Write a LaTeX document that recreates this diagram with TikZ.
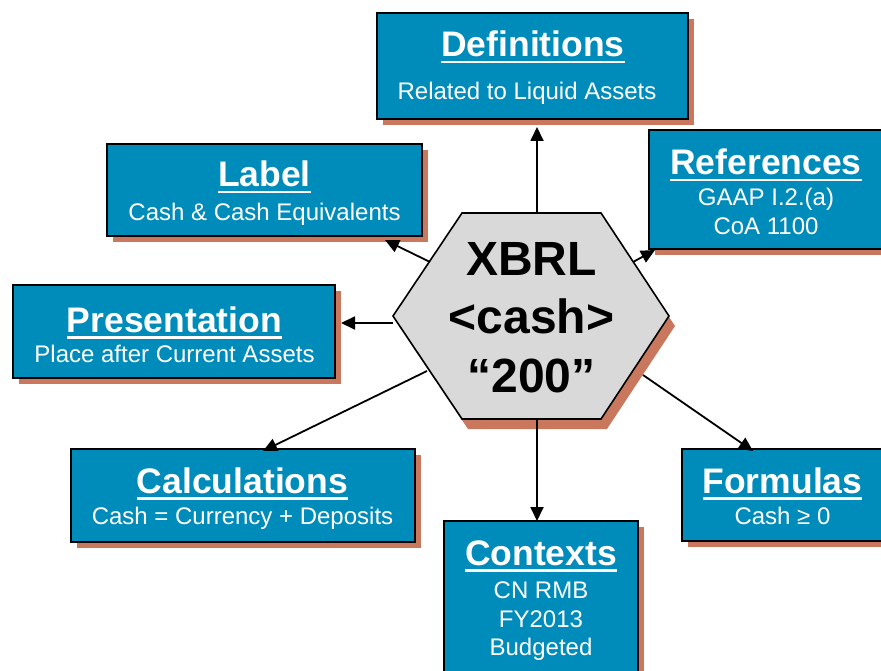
\documentclass[tikz,border=0pt]{standalone}
\usepackage{fontspec}
\setmainfont{Liberation Sans}
\usetikzlibrary{arrows.meta,shadows}
\definecolor{boxblue}{RGB}{0,140,186}
\definecolor{shadowred}{RGB}{201,120,94}
\definecolor{hexgray}{RGB}{217,217,217}
% underline drawn as a solid bar under the title
\newcommand\ulbar[1]{\setbox0\hbox{#1}\rlap{\rule[-6.5pt]{\wd0}{2.8pt}}\box0}
\tikzset{
  infobox/.style={draw=black, line width=1.6pt, fill=boxblue, inner sep=0pt,
    general shadow={fill=shadowred, shadow xshift=6pt, shadow yshift=-6pt}},
  ttl/.style={anchor=base, text=white, inner sep=0pt,
    font=\fontsize{35.5}{40}\selectfont\bfseries},
  subtxt/.style={anchor=base, text=white, inner sep=0pt,
    font=\fontsize{24}{28}\selectfont},
  hextxt/.style={anchor=base, text=black, inner sep=0pt,
    font=\fontsize{48}{56}\selectfont\bfseries},
  arr/.style={line width=1.8pt, -{Triangle[length=14pt,width=13pt]}},
}
\begin{document}
\begin{tikzpicture}[x=1pt,y=-1pt]
\useasboundingbox (0,0) rectangle (881,671);
\clip (0,0) rectangle (881,671);

% --- boxes ---
\node[infobox, minimum width=311pt, minimum height=106pt] (defs) at (532.5,66) {};
\node[ttl] (defsT) at (533,57) {\ulbar{Definitions}};
\node[subtxt] (defsS) at (527,100) {Related to Liquid Assets};

\node[infobox, minimum width=315pt, minimum height=92pt] (lab) at (264.5,190) {};
\node[ttl] (labT) at (264.5,187) {\ulbar{Label}};
\node[subtxt] (labS) at (264.5,221) {Cash \& Cash Equivalents};

\node[infobox, minimum width=233pt, minimum height=119pt] (refs) at (765.5,189.5) {};
\node[ttl] (refsT) at (766,175) {\ulbar{References}};
\node[subtxt] (refsS) at (766,206) {GAAP I.2.(a)};
\node[subtxt] (refsU) at (766,235) {CoA 1100};

\node[infobox, minimum width=322pt, minimum height=93pt] (pres) at (174,331.5) {};
\node[ttl] (presT) at (174.5,332) {\ulbar{Presentation}};
\node[subtxt] (presS) at (174.5,362) {Place after Current Assets};

\node[infobox, minimum width=344pt, minimum height=93pt] (calc) at (243,495.5) {};
\node[ttl] (calcT) at (242.5,493) {\ulbar{Calculations}};
\node[subtxt] (calcS) at (242.5,524) {Cash = Currency + Deposits};

\node[infobox, minimum width=200pt, minimum height=92pt] (form) at (782,495) {};
\node[ttl] (formT) at (782.5,493) {\ulbar{Formulas}};
\node[subtxt] (formS) at (782.5,524) {Cash ≥ 0};

\node[infobox, minimum width=194pt, minimum height=169pt] (ctx) at (541,605.5) {};
\node[ttl] (ctxT) at (541,565) {\ulbar{Contexts}};
\node[subtxt] (ctxS) at (541,598) {CN RMB};
\node[subtxt] (ctxU) at (541,627) {FY2013};
\node[subtxt] (ctxV) at (541,655) {Budgeted};

% --- central hexagon with its drop shadow ---
\fill[shadowred, shift={(6,10)}] (462,213) -- (601,213) -- (669,316) -- (601,419) -- (462,419) -- (393,316) -- cycle;
\draw[fill=hexgray, line width=1.6pt, line join=miter]
  (462,213) -- (601,213) -- (669,316) -- (601,419) -- (462,419) -- (393,316) -- cycle;
\node[hextxt] (hexA) at (531.5,276) {XBRL};
\node[hextxt] (hexB) at (531.5,333) {<cash>};
\node[hextxt] (hexC) at (531.5,392) {“200”};

% --- connector end points ---
\coordinate (sDef) at (537,213);
\coordinate (sLab) at (430,262);
\coordinate (sRef) at (633,262);
\coordinate (sPre) at (393,323);
\coordinate (sCal) at (427,371);
\coordinate (sCtx) at (537,419);
\coordinate (sFor) at (643,375);

\coordinate (tDef) at (537,127);
\coordinate (tLab) at (385,240);
\coordinate (tRef) at (655,250);
\coordinate (tPre) at (341,323);
\coordinate (tCal) at (263,451);
\coordinate (tCtx) at (537,521);
\coordinate (tFor) at (753,451);

% --- connectors ---
\draw[arr] (sDef) -- (tDef);
\draw[arr] (sLab) -- (tLab);
\draw[arr] (sRef) -- (tRef);
\draw[arr] (sPre) -- (tPre);
\draw[arr] (sCal) -- (tCal);
\draw[arr] (sCtx) -- (tCtx);
\draw[arr] (sFor) -- (tFor);
\end{tikzpicture}
\end{document}
